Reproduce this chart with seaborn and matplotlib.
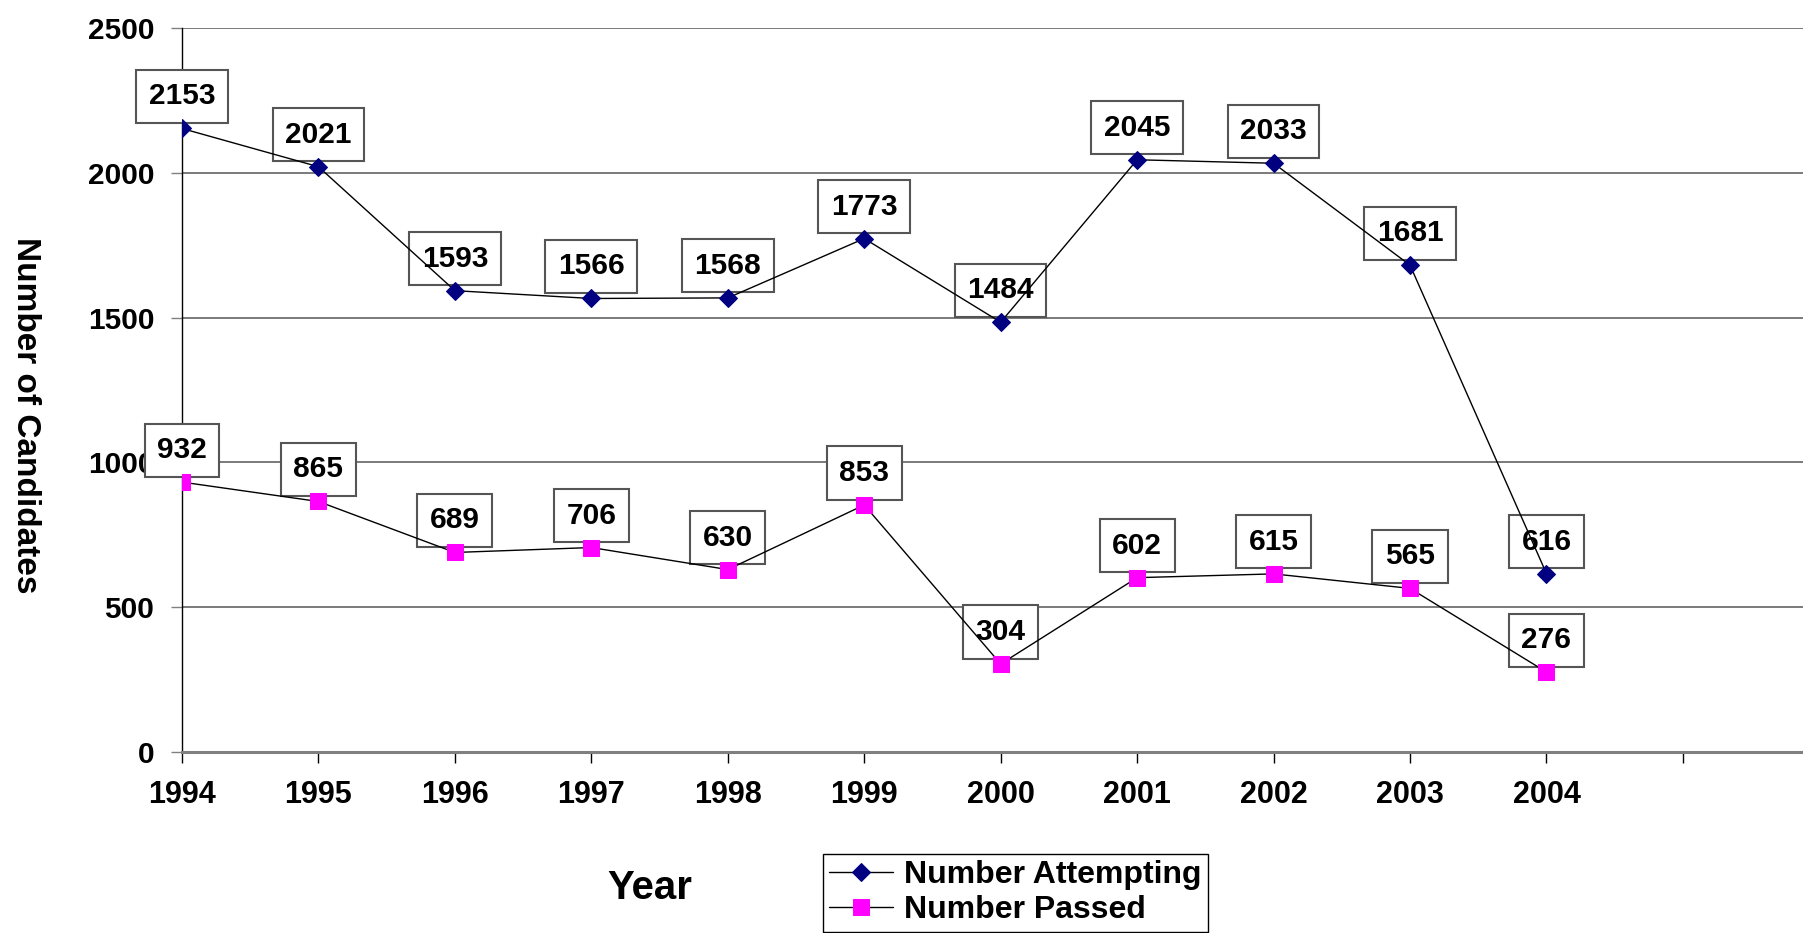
import pandas as pd
import matplotlib.pyplot as plt
import seaborn as sns

# Data
years = [1994, 1995, 1996, 1997, 1998, 1999, 2000, 2001, 2002, 2003, 2004]
attempting = [2153, 2021, 1593, 1566, 1568, 1773, 1484, 2045, 2033, 1681, 616]
passed = [932, 865, 689, 706, 630, 853, 304, 602, 615, 565, 276]
y_ticks = [0, 500, 1000, 1500, 2000, 2500]

df = pd.DataFrame({'Year': years, 'Number Attempting': attempting, 'Number Passed': passed})

sns.set_style('white')
plt.rcParams['font.family'] = ['Liberation Sans', 'DejaVu Sans']
plt.rcParams['font.weight'] = 'bold'
plt.rcParams['text.color'] = 'black'
plt.rcParams['axes.labelcolor'] = 'black'
plt.rcParams['xtick.color'] = 'black'
plt.rcParams['ytick.color'] = 'black'

fig = plt.figure(figsize=(18.03, 9.33), dpi=100)
ax = fig.add_axes([182 / 1803, 1 - 752 / 933, (1803 - 182) / 1803, (752 - 28) / 933])

# Series lines, drawn above the label boxes
sns.lineplot(data=df, x='Year', y='Number Attempting', ax=ax, color='black', lw=1,
             marker='D', markersize=9, markerfacecolor='#000080', markeredgecolor='#000080',
             label='Number Attempting', zorder=4, legend=False)
sns.lineplot(data=df, x='Year', y='Number Passed', ax=ax, color='black', lw=1,
             marker='s', markersize=12, markerfacecolor='#FF00FF', markeredgecolor='#FF00FF',
             label='Number Passed', zorder=4, legend=False)

# Value labels in boxes above each point
box = dict(boxstyle='square,pad=0.42', facecolor='white', edgecolor='#555555', lw=1.5)
for col in ['Number Attempting', 'Number Passed']:
    for x, v in zip(df['Year'], df[col]):
        ax.annotate(str(v), (x, v), xytext=(0, 18), textcoords='offset pixels',
                    ha='center', va='bottom', fontsize=21.5, fontweight='bold', color='black',
                    bbox=box, zorder=3, annotation_clip=False)

ax.set_xlim(1994, 2005.88)
ax.set_ylim(0, 2500)
ax.set_xticks(years + [2005])
ax.set_xticklabels([str(y) for y in years] + [''])
ax.set_yticks(y_ticks)
ax.set_yticklabels([str(t) for t in y_ticks])

ax.grid(axis='y', color='#707070', lw=1.3)
ax.set_axisbelow(True)
for s in ['top', 'right']:
    ax.spines[s].set_visible(False)
ax.spines['left'].set_color('black')
ax.spines['left'].set_linewidth(1)
ax.spines['bottom'].set_color('#808080')
ax.spines['bottom'].set_linewidth(2.2)

ax.tick_params(axis='x', direction='out', length=8, width=1, color='black',
               labelcolor='black', labelsize=22, pad=12, bottom=True)
ax.tick_params(axis='y', direction='out', length=8, width=1, color='#808080',
               labelcolor='black', labelsize=21.5, pad=12, left=True)
for lbl in ax.get_xticklabels() + ax.get_yticklabels():
    lbl.set_fontweight('bold')

ax.set_xlabel('')
ax.set_ylabel('')
fig.text(25 / 1803, 1 - 415 / 933, 'Number of Candidates', rotation=-90,
         ha='center', va='center', fontsize=24, fontweight='bold', color='black')
fig.text(650 / 1803, 1 - 888 / 933, 'Year', ha='center', va='center',
         fontsize=29, fontweight='bold', color='black')

leg = fig.legend(loc='upper left', bbox_to_anchor=(823 / 1803, 1 - 854 / 933),
                 borderaxespad=0, borderpad=0.2, handletextpad=0.35, labelspacing=0.15,
                 handlelength=2.0, fancybox=False, framealpha=1, edgecolor='black',
                 prop={'size': 23, 'weight': 'bold'})
leg.get_frame().set_linewidth(1)
for t in leg.get_texts():
    t.set_color('black')

plt.savefig('out.png', dpi=100)
plt.close()
